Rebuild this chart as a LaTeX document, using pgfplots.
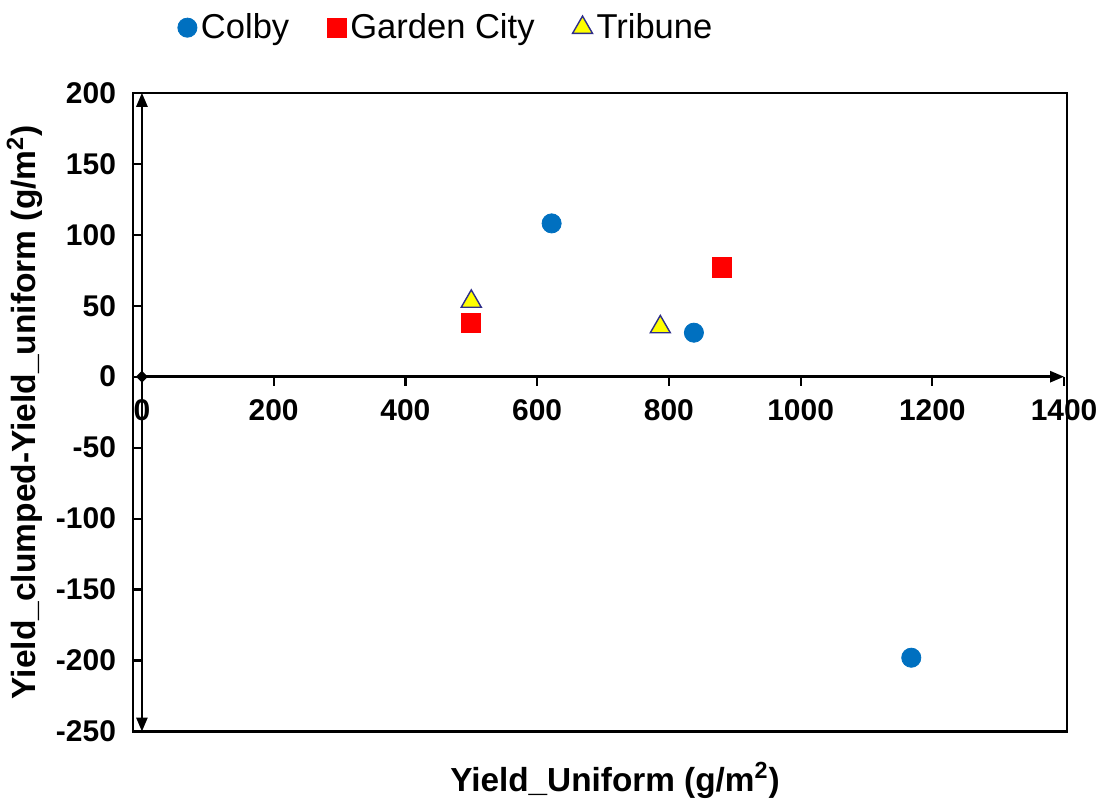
\documentclass[border=0pt]{standalone}
\usepackage{fontspec}
\setmainfont{Liberation Sans}
\usepackage{pgfplots}
\pgfplotsset{compat=1.18}
\usetikzlibrary{arrows.meta}
\definecolor{colby}{HTML}{0070C0}
\definecolor{gcity}{HTML}{FF0000}
\definecolor{trib}{HTML}{FFFF00}
\definecolor{tribedge}{HTML}{2E2E8A}
\begin{document}
\begin{tikzpicture}
\begin{axis}[
  scale only axis,
  width=462pt, height=320pt,
  xmin=0, xmax=1400, ymin=-250, ymax=200,
  axis lines*=middle,
  clip=false,
  hide obscured x ticks=false,
  hide obscured y ticks=false,
  xtick={0,200,...,1400},
  ytick={-250,-200,...,200},
  tick align=outside,
  major tick length=4.5pt,
  tick style={line width=1.1pt, black},
  x axis line style={line width=1.3pt, shorten <=-3pt, {Diamond[length=6pt,width=6pt]}-{Triangle[length=7pt,width=5.5pt]}},
  y axis line style={line width=1.3pt, {Triangle[length=7pt,width=5.5pt]}-{Triangle[length=7pt,width=5.5pt]}},
  /pgf/number format/assume math mode=true,
  /pgf/number format/1000 sep={},
  ticklabel style={font=\bfseries\fontsize{15}{18}\selectfont},
  xticklabel style={yshift=-3.5pt},
  yticklabel style={xshift=-5pt},
  every axis x label/.style={at={(axis description cs:0.5,0)}, anchor=north, yshift=-12pt, xshift=6pt, font=\bfseries\fontsize{16.7}{19}\selectfont},
  every axis y label/.style={at={(axis description cs:-0.1,0.5)}, rotate=90, anchor=south, font=\bfseries\fontsize{16.8}{19}\selectfont},
  xlabel={Yield\_Uniform (g/m\textsuperscript{2})},
  ylabel={Yield\_clumped-Yield\_uniform (g/m\textsuperscript{2})},
  legend columns=-1,
  legend style={at={(axis description cs:0.032,1.102)}, anchor=west, draw=none, fill=none,
    font=\fontsize{17.3}{20}\selectfont,
    /tikz/every even column/.append style={column sep=17pt},
    /tikz/every odd column/.append style={column sep=0pt}},
  legend cell align=left,
]
\addplot[only marks, mark=*, mark size=4.8pt, draw=colby, fill=colby] coordinates {
  (622,108) (838,31) (1168,-198)
};
\addlegendentry{Colby}
\addplot[only marks, mark=square*, mark size=4.8pt, draw=gcity, fill=gcity] coordinates {
  (500,38) (880,77)
};
\addlegendentry{Garden City}
\addplot[only marks, mark=triangle*, mark size=5.8pt, draw=tribedge, fill=trib, line width=0.7pt] coordinates {
  (500,53) (787,35)
};
\addlegendentry{Tribune}
\draw[line width=1.3pt] ([xshift=-4.5pt]rel axis cs:0,0) rectangle ([xshift=1.5pt]rel axis cs:1,1);
\path ([xshift=-70pt,yshift=-32pt]rel axis cs:0,0) rectangle ([xshift=21pt,yshift=46.5pt]rel axis cs:1,1);
\end{axis}
\end{tikzpicture}
\end{document}
